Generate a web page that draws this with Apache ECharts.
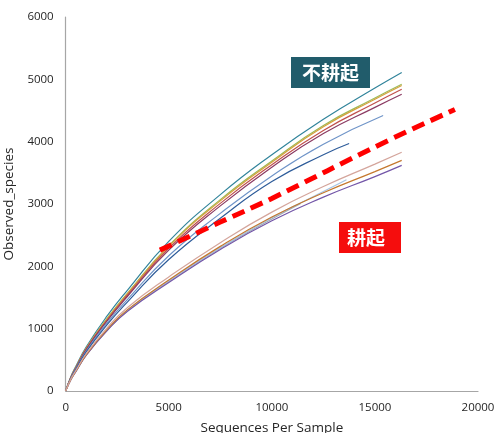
<!DOCTYPE html>
<html><head><meta charset="utf-8">
<script src="https://cdn.jsdelivr.net/npm/echarts@6/dist/echarts.min.js"></script>
<style>html,body{margin:0;padding:0;background:#fff}#c{width:494px;height:433px}</style>
</head><body><div id="c"></div>
<script>
// Sampling depths (sequences per sample)
const depthsFull = [0, 250, 500, 1000, 2000, 3000, 5000, 7500, 10000, 12500, 15000, 16300];

// Upper group (不耕起)
const teal     = [0, 230, 400, 710, 1200, 1620, 2400, 3150, 3790, 4360, 4860, 5110];
const olive    = [0, 220, 385, 690, 1160, 1570, 2330, 3070, 3690, 4260, 4700, 4920];
const gold     = [0, 218, 380, 685, 1150, 1560, 2320, 3050, 3670, 4240, 4680, 4900];
const red      = [0, 215, 375, 675, 1135, 1540, 2290, 3010, 3630, 4180, 4620, 4840];
const maroon   = [0, 212, 370, 665, 1120, 1520, 2260, 2970, 3590, 4130, 4550, 4760];
const steelDepths = [0, 250, 500, 1000, 2000, 3000, 5000, 7500, 10000, 12500, 15400];
const steel    = [0, 205, 360, 645, 1090, 1470, 2170, 2850, 3450, 3960, 4420];
const navyDepths = [0, 250, 500, 1000, 2000, 3000, 5000, 7500, 10000, 12500, 13750];
const navy     = [0, 200, 350, 630, 1060, 1430, 2110, 2770, 3360, 3790, 3970];

// Lower group (耕起)
const pink     = [0, 190, 330, 600, 1010, 1340, 1830, 2380, 2870, 3280, 3640, 3830];
const orange   = [0, 185, 320, 585, 985, 1305, 1780, 2320, 2790, 3180, 3520, 3700];
const purple   = [0, 180, 315, 575, 965, 1280, 1740, 2270, 2730, 3110, 3440, 3620];
const lblueDepths = [0, 250, 500, 1000, 2000, 3000, 5000, 7500, 10000, 12500, 13620];
const lblue    = [0, 183, 318, 580, 975, 1295, 1770, 2300, 2780, 3200, 3390];
const grayDepths = [0, 250, 500, 1000, 2000, 3000, 5000, 7500, 10000, 11400];
const gray     = [0, 182, 316, 578, 970, 1290, 1760, 2290, 2760, 3010];

// Dashed separator line
const sepX = [4570, 7500, 10000, 15400, 18880];
const sepY = [2260, 2710, 3090, 3980, 4516];

const xTicks = [0, 5000, 10000, 15000, 20000];
const yTicks = [0, 1000, 2000, 3000, 4000, 5000, 6000];

function pairs(xs, ys){ return xs.map((x,i)=>[x, ys[i]]); }

const curves = [
  {d: pairs(depthsFull, teal),   c: '#31849B'},
  {d: pairs(depthsFull, olive),  c: '#9BBB59'},
  {d: pairs(depthsFull, gold),   c: '#D6A03C'},
  {d: pairs(depthsFull, red),    c: '#C0504D'},
  {d: pairs(depthsFull, maroon), c: '#8B3A62'},
  {d: pairs(steelDepths, steel), c: '#6F94C8'},
  {d: pairs(navyDepths, navy),   c: '#2E5C9A'},
  {d: pairs(grayDepths, gray),   c: '#A0A8B0'},
  {d: pairs(lblueDepths, lblue), c: '#A6C4E4'},
  {d: pairs(depthsFull, purple), c: '#7356A8'},
  {d: pairs(depthsFull, orange), c: '#C5782E'},
  {d: pairs(depthsFull, pink),   c: '#D4A59C'}
];

const series = curves.map(s => ({
  type: 'line', data: s.d, smooth: 0.5, showSymbol: false, silent: true,
  lineStyle: {color: s.c, width: 1.2}
}));
series.push({
  type: 'line', data: pairs(sepX, sepY), smooth: 0.4, showSymbol: false, silent: true,
  lineStyle: {color: '#FF0000', width: 5, type: [13, 7], cap: 'butt'}
});

const chart = echarts.init(document.getElementById('c'));
const font = "'Open Sans', 'Noto Sans', sans-serif";
chart.setOption({
  animation: false,
  grid: {left: 65.7, right: 16, top: 17, bottom: 42, containLabel: false, outerBoundsMode: 'none'},
  xAxis: {
    type: 'value', min: xTicks[0], max: xTicks[xTicks.length-1], interval: 5000,
    name: 'Sequences Per Sample', nameLocation: 'middle', nameGap: 30,
    nameTextStyle: {fontFamily: font, fontSize: 13.5, color: '#262626'},
    axisLine: {lineStyle: {color: '#A6A6A6', width: 1.2}},
    axisTick: {show: false}, splitLine: {show: false},
    axisLabel: {fontFamily: font, fontSize: 11.5, color: '#262626', margin: 11, formatter: v => String(v)}
  },
  yAxis: {
    type: 'value', min: yTicks[0], max: yTicks[yTicks.length-1], interval: 1000,
    name: 'Observed_species', nameLocation: 'middle', nameGap: 40,
    nameTextStyle: {fontFamily: font, fontSize: 13.5, color: '#262626'},
    axisLine: {show: true, lineStyle: {color: '#A6A6A6', width: 1.2}},
    axisTick: {show: false}, splitLine: {show: false},
    axisLabel: {fontFamily: font, fontSize: 11.5, color: '#262626', margin: 12, formatter: v => String(v)}
  },
  series: series,
  graphic: [
    {type: 'rect', shape: {x: 291, y: 57, width: 79, height: 31}, style: {fill: '#215C6B'}, z: 100},
    {type: 'text', x: 330.5, y: 72.5, style: {text: '不耕起', fill: '#fff', font: "bold 19px 'Noto Sans CJK SC'", align: 'center', verticalAlign: 'middle'}, z: 101},
    {type: 'rect', shape: {x: 339, y: 222, width: 62, height: 31}, style: {fill: '#F50D0D'}, z: 100},
    {type: 'text', x: 366, y: 237.5, style: {text: '耕起', fill: '#fff', font: "bold 19px 'Noto Sans CJK SC'", align: 'center', verticalAlign: 'middle'}, z: 101}
  ]
});
</script>
</body></html>
